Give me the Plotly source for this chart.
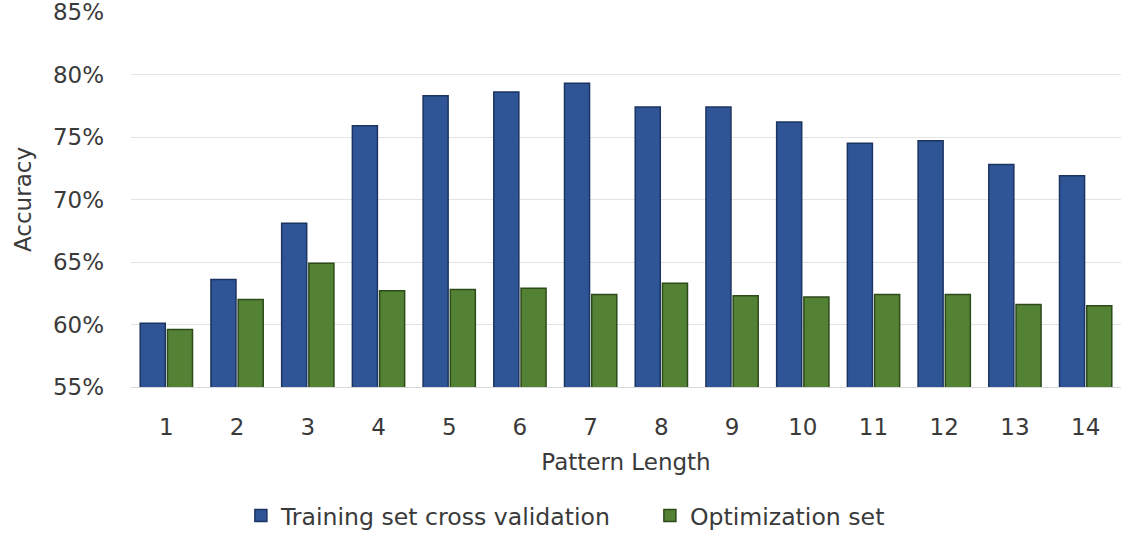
import plotly.graph_objects as go

pattern_length = [str(i) for i in range(1, 15)]
training_cv = [60.1, 63.6, 68.1, 75.9, 78.3, 78.6, 79.3, 77.4, 77.4, 76.2, 74.5, 74.7, 72.8, 71.9]
optimization = [59.6, 62.0, 64.9, 62.7, 62.8, 62.9, 62.4, 63.3, 62.3, 62.2, 62.4, 62.4, 61.6, 61.5]
y_ticks = [55, 60, 65, 70, 75, 80, 85]
y_tick_labels = [f"{v}%" for v in y_ticks]

FONT = "'DejaVu Sans', sans-serif"
TEXT = "#3a3a3a"
SIZE = 23

fig = go.Figure()
fig.add_trace(go.Bar(
    x=pattern_length, y=training_cv, name="Training set cross validation",
    marker=dict(color="#2f5597", line=dict(color="#1c3461", width=1.5)),
))
fig.add_trace(go.Bar(
    x=pattern_length, y=optimization, name="Optimization set",
    marker=dict(color="#548235", line=dict(color="#2c4a1a", width=1.5)),
))

fig.update_layout(
    width=1126, height=537,
    margin=dict(l=131, r=5, t=12, b=150, autoexpand=False),
    paper_bgcolor="white", plot_bgcolor="white",
    barmode="group", bargap=0.23, bargroupgap=0.08,
    font=dict(family=FONT, size=SIZE, color=TEXT),
    legend=dict(orientation="h", x=0.111, xanchor="left",
                y=-0.343, yanchor="middle",
                font=dict(size=23.6, color=TEXT), itemwidth=30, entrywidth=364,
                traceorder="normal"),
    xaxis=dict(
        title=dict(text="Pattern Length", font=dict(size=SIZE, color=TEXT), standoff=15),
        tickfont=dict(size=SIZE, color=TEXT), showgrid=False, ticklabelstandoff=19,
        showline=True, linecolor="#d9d9d9", linewidth=1, ticks="", automargin=False,
    ),
    yaxis=dict(
        title=dict(text="Accuracy", font=dict(size=SIZE, color=TEXT), standoff=14),
        range=[55, 85], tickvals=y_ticks, ticktext=y_tick_labels,
        tickfont=dict(size=SIZE, color=TEXT), ticklabelstandoff=26,
        ticklabeloverflow="allow", automargin=False,
        showgrid=True, gridcolor="#e3e3e3", gridwidth=1, zeroline=False, ticks="",
    ),
)

fig.write_html("out.html")
